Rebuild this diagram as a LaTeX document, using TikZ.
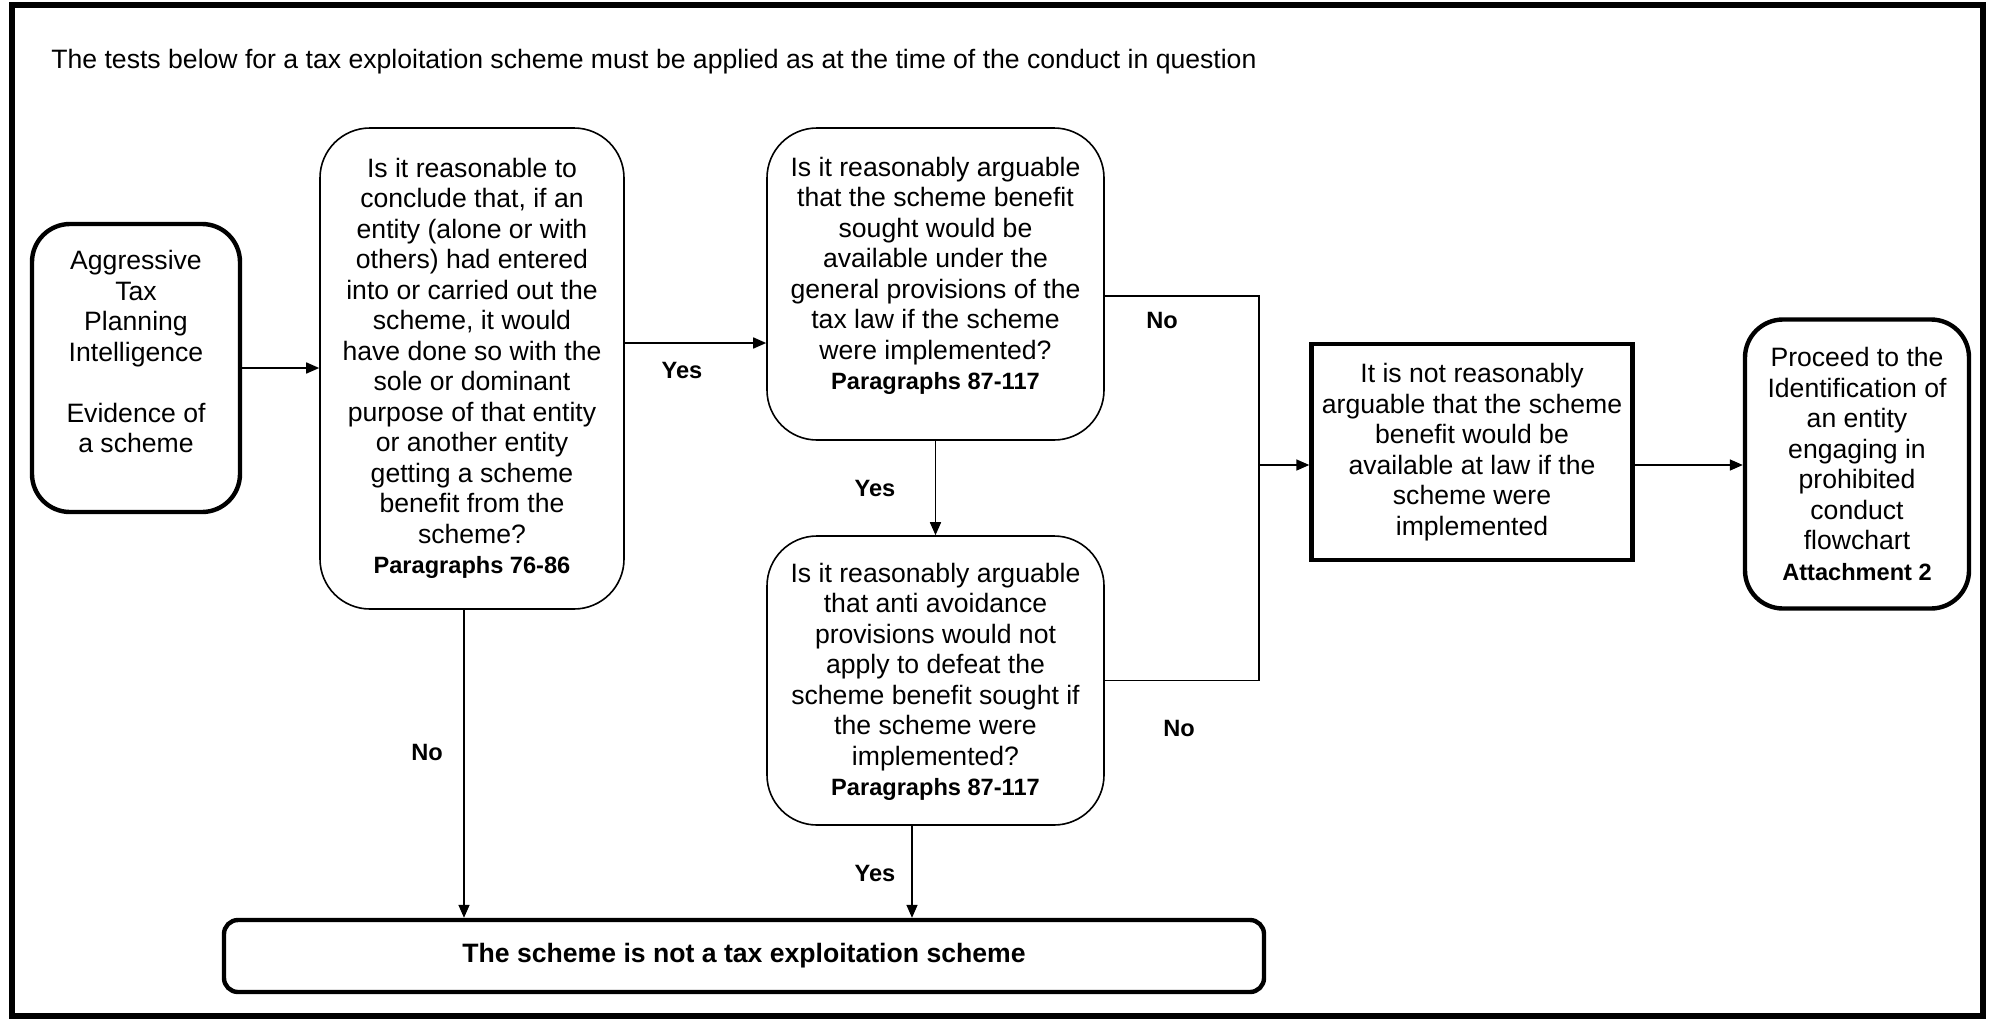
\documentclass[tikz,border=0pt]{standalone}
\usepackage{fontspec}
\setmainfont{Liberation Sans}
\usetikzlibrary{arrows.meta}
\newcommand{\fs}{\fontsize{13.3pt}{15.25pt}\selectfont}
\newcommand{\bs}[1]{{\fontsize{11.8pt}{15.25pt}\selectfont\bfseries #1}}
\tikzset{
  box/.style={draw, align=center, inner sep=0pt, font=\fs},
  txt/.style={align=center, inner sep=0pt, font=\fs},
  thinbox/.style={box, line width=0.8pt, rounded corners=25pt},
  thickrbox/.style={box, line width=2.2pt, rounded corners=19pt},
  thicksbox/.style={box, line width=2.2pt},
  conn/.style={line width=0.8pt},
  arr/.style={conn, -{Triangle[length=6.5pt,width=5.5pt]}},
  lbl/.style={font=\fontsize{11.8pt}{14pt}\selectfont\bfseries, inner sep=0pt},
}
\begin{document}
\begin{tikzpicture}[x=0.5pt,y=-0.5pt]
\useasboundingbox (0,0) rectangle (1992,1018);
\draw[line width=2.6pt] (12,5) rectangle (1983,1016);
\node[anchor=west, inner sep=0pt, font=\fs] (title) at (51,62) {The tests below for a tax exploitation scheme must be applied as at the time of the conduct in question};

\node[thickrbox, minimum width=104pt, minimum height=144pt] (agg) at (136,368) {};
\node[txt] (aggt) at (136,351.5)
  {Aggressive\\Tax\\Planning\\Intelligence\\[15.25pt]Evidence of\\a scheme};
\node[thinbox, minimum width=152pt, minimum height=240.5pt] (q1) at (472,368.5)
  {Is it reasonable to\\conclude that, if an\\entity (alone or with\\others) had entered\\into or carried out the\\scheme, it would\\have done so with the\\sole or dominant\\purpose of that entity\\or another entity\\getting a scheme\\benefit from the\\scheme?\\\bs{Paragraphs 76-86}};
\node[thinbox, minimum width=168.5pt, minimum height=156pt] (q2) at (935.5,284) {};
\node[txt] (q2t) at (935.5,276)
  {Is it reasonably arguable\\that the scheme benefit\\sought would be\\available under the\\general provisions of the\\tax law if the scheme\\were implemented?\\\bs{Paragraphs 87-117}};
\node[thinbox, minimum width=168.5pt, minimum height=144.5pt] (q3) at (935.5,680.5) {};
\node[txt] (q3t) at (935.5,682)
  {Is it reasonably arguable\\that anti avoidance\\provisions would not\\apply to defeat the\\scheme benefit sought if\\the scheme were\\implemented?\\\bs{Paragraphs 87-117}};
\node[thicksbox, minimum width=160.5pt, minimum height=108pt] (concl) at (1472,452)
  {It is not reasonably\\arguable that the scheme\\benefit would be\\available at law if the\\scheme were\\implemented};
\node[thickrbox, minimum width=112pt, minimum height=144.5pt] (proc) at (1857,464)
  {Proceed to the\\Identification of\\an entity\\engaging in\\prohibited\\conduct\\flowchart\\\bs{Attachment 2}};
\node[box, line width=2.2pt, rounded corners=7pt, minimum width=520pt, minimum height=36pt, font=\fs\bfseries] (bot) at (744,956)
  {The scheme is not a tax exploitation scheme};

\coordinate (ya) at (0,343);
\coordinate (yb) at (0,296);
\coordinate (j) at (1259,465);
\coordinate (xa) at (464,0);
\coordinate (xb) at (912,0);

\draw[arr] (agg.east) -- (agg.east -| q1.west);
\draw[arr] (q1.east |- ya) -- (q2.west |- ya);
\draw[arr] (q2.south) -- (q3.north);
\draw[conn] (q2.east |- yb) -| (j);
\draw[conn] (q3.east) -| (j);
\draw[arr] (j) -- (j -| concl.west);
\draw[arr] (concl.east |- j) -- (proc.west |- j);
\draw[arr] (q1.south -| xa) -- (bot.north -| xa);
\draw[arr] (q3.south -| xb) -- (bot.north -| xb);

\node[lbl] (l1) at (682,370) {Yes};
\node[lbl] (l2) at (875,488) {Yes};
\node[lbl] (l3) at (1162,320) {No};
\node[lbl] (l4) at (1179,728) {No};
\node[lbl] (l5) at (427,752) {No};
\node[lbl] (l6) at (875,873) {Yes};
\end{tikzpicture}
\end{document}
